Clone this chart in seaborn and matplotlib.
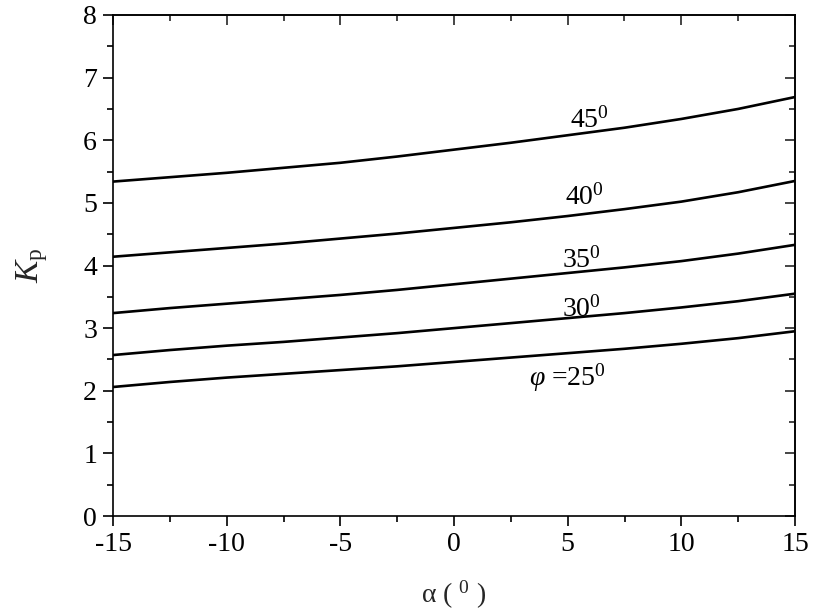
import pandas as pd
import matplotlib
matplotlib.use('Agg')
import matplotlib.pyplot as plt
from matplotlib.ticker import MultipleLocator
import seaborn as sns

alpha = [-15, -12.5, -10, -7.5, -5, -2.5, 0, 2.5, 5, 7.5, 10, 12.5, 15]
kp_25 = [2.06, 2.14, 2.21, 2.27, 2.33, 2.39, 2.46, 2.53, 2.60, 2.67, 2.75, 2.84, 2.95]
kp_30 = [2.57, 2.65, 2.72, 2.78, 2.85, 2.92, 3.00, 3.08, 3.16, 3.24, 3.33, 3.43, 3.55]
kp_35 = [3.24, 3.32, 3.39, 3.46, 3.53, 3.61, 3.70, 3.79, 3.88, 3.97, 4.07, 4.19, 4.33]
kp_40 = [4.14, 4.21, 4.28, 4.35, 4.43, 4.51, 4.60, 4.69, 4.79, 4.90, 5.02, 5.17, 5.35]
kp_45 = [5.34, 5.41, 5.48, 5.56, 5.64, 5.74, 5.85, 5.96, 6.08, 6.20, 6.34, 6.50, 6.69]
phi_labels = ['$\\varphi$ =25$^0$', '30$^0$', '35$^0$', '40$^0$', '45$^0$']
label_pos = [(3.3, 2.09), (4.75, 3.18), (4.75, 3.96), (4.9, 4.97), (5.1, 6.2)]

series = {25: kp_25, 30: kp_30, 35: kp_35, 40: kp_40, 45: kp_45}
df = pd.DataFrame([{'alpha': a, 'Kp': k, 'phi': p}
                   for p, vals in series.items() for a, k in zip(alpha, vals)])

sns.set_theme(style='white')
plt.rcParams['font.family'] = ['Liberation Serif', 'DejaVu Serif']
plt.rcParams['mathtext.fontset'] = 'custom'
plt.rcParams['mathtext.rm'] = 'Liberation Serif'
plt.rcParams['mathtext.it'] = 'Liberation Serif:italic'
plt.rcParams['axes.unicode_minus'] = False

fig = plt.figure(figsize=(8.17, 6.13), dpi=100)
ax = fig.add_axes([113 / 817, 1 - 516 / 613, (795 - 113) / 817, (516 - 15) / 613])

sns.lineplot(data=df, x='alpha', y='Kp', hue='phi', palette=['black'] * 5,
             legend=False, ax=ax, linewidth=1.9)

for txt, (x, y) in zip(phi_labels, label_pos):
    ax.text(x, y, txt, fontsize=20, color='black', ha='left', va='baseline')

ax.set_xlim(-15, 15)
ax.set_ylim(0, 8)
ax.xaxis.set_major_locator(MultipleLocator(5))
ax.xaxis.set_minor_locator(MultipleLocator(2.5))
ax.yaxis.set_major_locator(MultipleLocator(1))
ax.yaxis.set_minor_locator(MultipleLocator(0.5))
ax.tick_params(which='both', direction='out', width=1.2, colors='black',
               labelsize=20, bottom=True, left=True)
ax.tick_params(which='major', length=7.5, pad=4)
ax.tick_params(which='minor', length=4.5)
for s in ax.spines.values():
    s.set_color('black')
    s.set_linewidth(1.2)

# tacche interne sui lati superiore e destro
top = ax.secondary_xaxis('top')
top.xaxis.set_major_locator(MultipleLocator(5))
top.xaxis.set_minor_locator(MultipleLocator(2.5))
top.tick_params(which='both', direction='in', width=1.2, labeltop=False)
top.tick_params(which='major', length=7.5)
top.tick_params(which='minor', length=4)
right = ax.secondary_yaxis('right')
right.yaxis.set_major_locator(MultipleLocator(1))
right.yaxis.set_minor_locator(MultipleLocator(0.5))
right.tick_params(which='both', direction='in', width=1.2, labelright=False)
right.tick_params(which='major', length=7.5)
right.tick_params(which='minor', length=4)

ax.set_xlabel('α ( $^0$ )', fontsize=20, labelpad=16)
ax.set_ylabel('$K_\\mathrm{p}$', fontsize=24, labelpad=24)

fig.savefig('out.png', dpi=100)
